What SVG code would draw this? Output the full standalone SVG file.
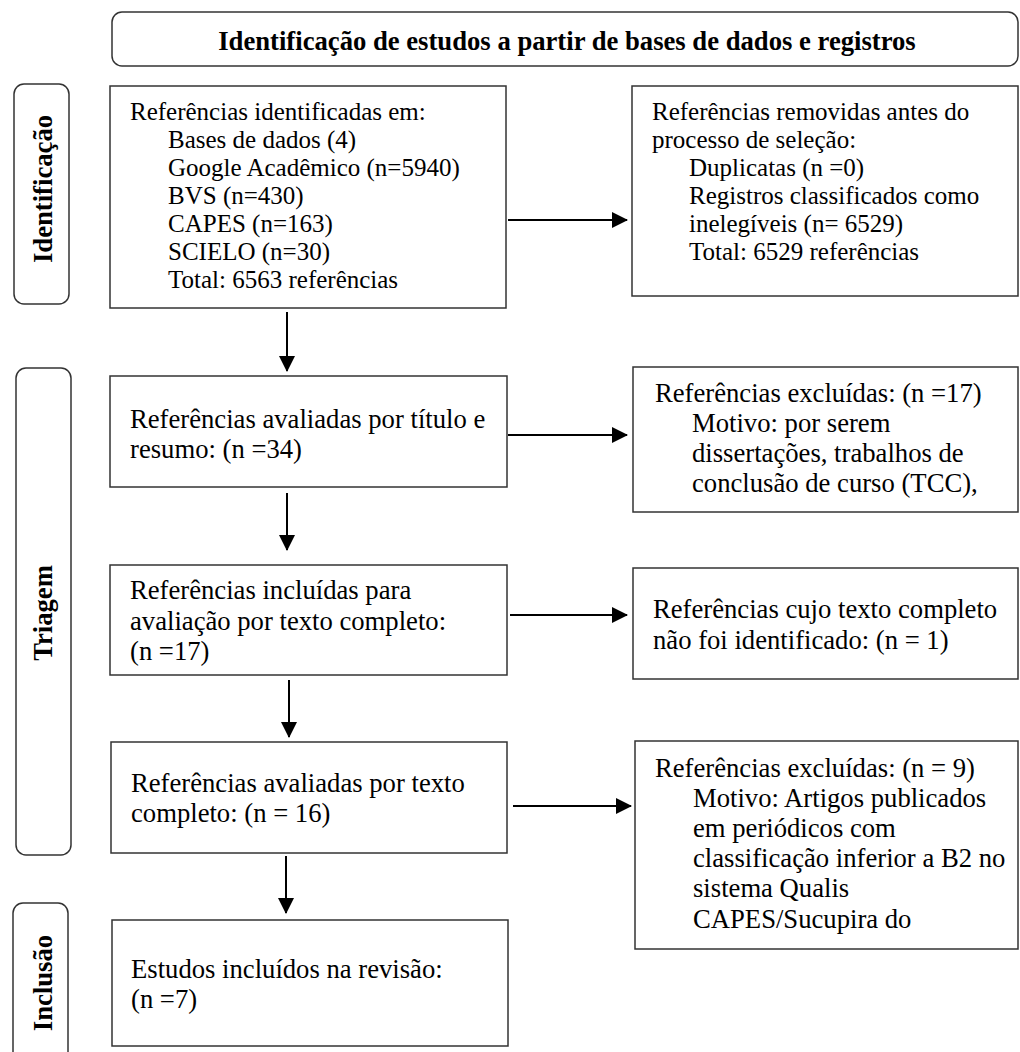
<svg xmlns="http://www.w3.org/2000/svg" width="1020" height="1052" viewBox="0 0 1020 1052" font-family="Liberation Serif, Times New Roman, serif">
  <defs>
    <style>
      .box { fill: #ffffff; stroke: #333333; stroke-width: 1.5; }
      .lbl { fill: #ffffff; stroke: #333333; stroke-width: 1.5; }
      text { font-family: 'Liberation Serif', 'Times New Roman', serif; fill: #000000; }
      .t { font-size: 26.67px; }
      .ts { font-size: 25px; }
      .tb { font-size: 26.67px; font-weight: bold; }
      .conn { stroke: #000000; stroke-width: 2; fill: none; }
    </style>
    <marker id="ah" viewBox="0 0 16 16" refX="15" refY="8" markerWidth="16" markerHeight="16" markerUnits="userSpaceOnUse" orient="auto">
      <path d="M0,0 L16,8 L0,16 Z" fill="#000000"/>
    </marker>
  </defs>

  <rect width="1020" height="1052" fill="#ffffff"/>

  <g id="header">
    <rect class="lbl" x="112" y="12" width="906" height="54" rx="10" ry="10"/>
    <text class="tb" x="567" y="50" text-anchor="middle" font-family="Liberation Serif">Identificação de estudos a partir de bases de dados e registros</text>
  </g>

  <g id="stage-identificacao">
    <rect class="lbl" x="14" y="84" width="55" height="220" rx="10" ry="10"/>
    <text class="tb" transform="translate(51.5,189) rotate(-90)" text-anchor="middle" font-family="Liberation Serif">Identificação</text>
  </g>
  <g id="stage-triagem">
    <rect class="lbl" x="16" y="368" width="55" height="487" rx="10" ry="10"/>
    <text class="tb" transform="translate(52,613) rotate(-90)" text-anchor="middle" font-family="Liberation Serif">Triagem</text>
  </g>
  <g id="stage-inclusao">
    <rect class="lbl" x="13" y="903" width="55" height="170" rx="10" ry="10"/>
    <text class="tb" transform="translate(51.5,983) rotate(-90)" text-anchor="middle" font-family="Liberation Serif">Inclusão</text>
  </g>

  <g id="box-identified" font-family="Liberation Serif">
    <rect class="box" x="110" y="86" width="396" height="222"/>
    <text class="ts" x="130" y="120">Referências identificadas em:</text>
    <text class="ts" x="168" y="148">Bases de dados (4)</text>
    <text class="ts" x="168" y="176">Google Acadêmico (n=5940)</text>
    <text class="ts" x="168" y="204">BVS (n=430)</text>
    <text class="ts" x="168" y="232">CAPES (n=163)</text>
    <text class="ts" x="168" y="260">SCIELO (n=30)</text>
    <text class="ts" x="168" y="288">Total: 6563 referências</text>
  </g>

  <g id="box-removed" font-family="Liberation Serif">
    <rect class="box" x="632" y="86" width="386" height="210"/>
    <text class="ts" x="652" y="120">Referências removidas antes do</text>
    <text class="ts" x="652" y="148">processo de seleção:</text>
    <text class="ts" x="689" y="176">Duplicatas (n =0)</text>
    <text class="ts" x="689" y="204">Registros classificados como</text>
    <text class="ts" x="689" y="232">inelegíveis (n= 6529)</text>
    <text class="ts" x="689" y="260">Total: 6529 referências</text>
  </g>

  <g id="box-title-abstract" font-family="Liberation Serif">
    <rect class="box" x="110" y="376" width="397" height="111"/>
    <text class="t" x="130" y="428">Referências avaliadas por título e</text>
    <text class="t" x="130" y="458">resumo: (n =34)</text>
  </g>

  <g id="box-excluded-1" font-family="Liberation Serif">
    <rect class="box" x="633" y="367" width="385" height="145"/>
    <text class="t" x="655" y="402">Referências excluídas: (n =17)</text>
    <text class="t" x="692" y="432">Motivo: por serem</text>
    <text class="t" x="692" y="462">dissertações, trabalhos de</text>
    <text class="t" x="692" y="492">conclusão de curso (TCC),</text>
  </g>

  <g id="box-fulltext-included" font-family="Liberation Serif">
    <rect class="box" x="110" y="565" width="397" height="110"/>
    <text class="t" x="130" y="599">Referências incluídas para</text>
    <text class="t" x="130" y="630">avaliação por texto completo:</text>
    <text class="t" x="130" y="660">(n =17)</text>
  </g>

  <g id="box-not-found" font-family="Liberation Serif">
    <rect class="box" x="633" y="568" width="385" height="111"/>
    <text class="t" x="653" y="618">Referências cujo texto completo</text>
    <text class="t" x="653" y="649">não foi identificado: (n = 1)</text>
  </g>

  <g id="box-fulltext-assessed" font-family="Liberation Serif">
    <rect class="box" x="111" y="742" width="396" height="111"/>
    <text class="t" x="131" y="792">Referências avaliadas por texto</text>
    <text class="t" x="131" y="822">completo: (n = 16)</text>
  </g>

  <g id="box-excluded-2" font-family="Liberation Serif">
    <rect class="box" x="635" y="741" width="383" height="208"/>
    <text class="t" x="655" y="777">Referências excluídas: (n = 9)</text>
    <text class="t" x="693" y="807">Motivo: Artigos publicados</text>
    <text class="t" x="693" y="837">em periódicos com</text>
    <text class="t" x="693" y="867">classificação inferior a B2 no</text>
    <text class="t" x="693" y="897">sistema Qualis</text>
    <text class="t" x="693" y="928">CAPES/Sucupira do</text>
  </g>

  <g id="box-included" font-family="Liberation Serif">
    <rect class="box" x="112" y="920" width="396" height="126"/>
    <text class="t" x="131" y="978">Estudos incluídos na revisão:</text>
    <text class="t" x="131" y="1008">(n =7)</text>
  </g>

  <g id="connectors">
    <line class="conn" x1="508" y1="220" x2="627" y2="220" marker-end="url(#ah)"/>
    <line class="conn" x1="287" y1="312" x2="287" y2="371" marker-end="url(#ah)"/>
    <line class="conn" x1="508" y1="435" x2="627" y2="435" marker-end="url(#ah)"/>
    <line class="conn" x1="287" y1="493" x2="287" y2="550" marker-end="url(#ah)"/>
    <line class="conn" x1="510" y1="615" x2="627" y2="615" marker-end="url(#ah)"/>
    <line class="conn" x1="289" y1="680" x2="289" y2="737" marker-end="url(#ah)"/>
    <line class="conn" x1="513" y1="806" x2="631" y2="806" marker-end="url(#ah)"/>
    <line class="conn" x1="286" y1="856" x2="286" y2="913" marker-end="url(#ah)"/>
  </g>
</svg>
